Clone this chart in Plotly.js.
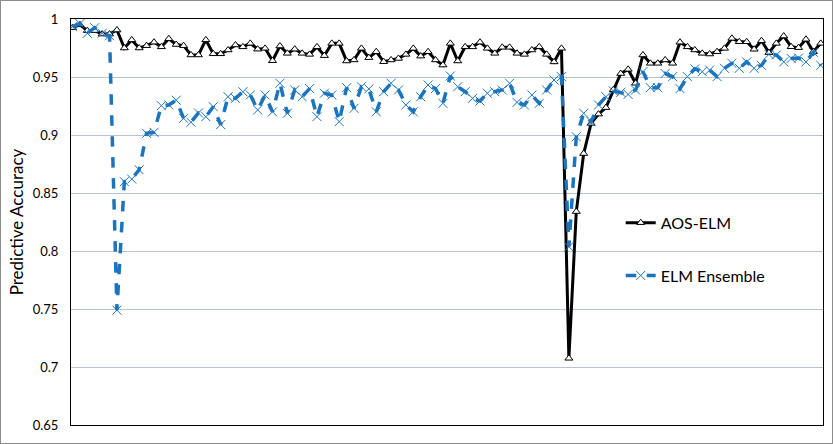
<!DOCTYPE html>
<html>
<head>
<meta charset="utf-8">
<script src="https://cdn.plot.ly/plotly-3.0.1.min.js"></script>
<style>
  html, body { margin: 0; padding: 0; background: #ffffff; }
  #chart { position: absolute; left: 0; top: 0; width: 831px; height: 442px; border: 1px solid #8c8c8c; }
</style>
</head>
<body>
<div id="chart"></div>
<script>
// Series names
const seriesNames = ["AOS-ELM", "ELM Ensemble"];

// AOS-ELM predictive accuracy
const aosElm = [
  0.9925, 0.995, 0.990, 0.990, 0.987, 0.987, 0.9905, 0.975, 0.982, 0.975,
  0.977, 0.980, 0.976, 0.983, 0.978, 0.977, 0.969, 0.969, 0.982, 0.970,
  0.970,
  0.9733, 0.9776, 0.976, 0.979, 0.974, 0.9747, 0.964, 0.9767, 0.9704, 0.974,
  0.9704, 0.9695, 0.976, 0.9684, 0.979, 0.979, 0.9638, 0.9647, 0.9747, 0.9667,
  0.9718,
  0.9632, 0.9647, 0.966, 0.9695, 0.9747, 0.968, 0.9718, 0.9647, 0.9603, 0.979,
  0.9638, 0.976, 0.976, 0.980, 0.9747, 0.9704, 0.9756, 0.9756, 0.9704, 0.9695,
  0.9733,
  0.976, 0.9695, 0.963, 0.9747, 0.7075, 0.834, 0.884, 0.910, 0.918, 0.9236,
  0.939, 0.953, 0.9566, 0.9446, 0.969, 0.9618, 0.9618, 0.9647, 0.9618, 0.980,
  0.976,
  0.9733, 0.9704, 0.9698, 0.9718, 0.9747, 0.9833, 0.9804, 0.9804, 0.9739, 0.9813,
  0.971, 0.979, 0.9853, 0.9761, 0.9753, 0.9825, 0.9718, 0.979
];

// ELM Ensemble predictive accuracy
const elmEnsemble = [
  0.9934, 0.996, 0.9877, 0.9925, 0.9877, 0.9856, 0.749, 0.8598, 0.862, 0.870,
  0.9014, 0.9023, 0.9253, 0.9259, 0.930, 0.9144, 0.911, 0.919, 0.9158, 0.9244,
  0.909,
  0.933, 0.9316, 0.9373, 0.9345, 0.9216, 0.9345, 0.920, 0.9446, 0.9187, 0.9388,
  0.933, 0.940, 0.9158, 0.936, 0.9345, 0.9115, 0.9408, 0.923, 0.9416, 0.9397,
  0.920,
  0.9373, 0.9446, 0.9388, 0.9259, 0.920, 0.933, 0.9431, 0.940, 0.9273, 0.9509,
  0.9416, 0.9373, 0.9316, 0.9293, 0.936, 0.9373, 0.9388, 0.9446, 0.9282, 0.9259,
  0.9345,
  0.9273, 0.9388, 0.9474, 0.9503, 0.8037, 0.8985, 0.9187, 0.9115, 0.9259, 0.933,
  0.938, 0.9368, 0.935, 0.9388, 0.9546, 0.9408, 0.9408, 0.953, 0.9503, 0.940,
  0.9503,
  0.957, 0.9546, 0.956, 0.9503, 0.9575, 0.9618, 0.9575, 0.963, 0.9575, 0.960,
  0.9695, 0.969, 0.963, 0.966, 0.9664, 0.963, 0.9713, 0.960
];

// Sample index (category) for each point
const sampleIndex = aosElm.map((_, i) => i);

// Y-axis ticks
const yTickVals = [0.65, 0.7, 0.75, 0.8, 0.85, 0.9, 0.95, 1];
const yTickText = ["0.65", "0.7", "0.75", "0.8", "0.85", "0.9", "0.95", "1"];
const yTitle = "Predictive Accuracy";

const FONT = "Lato, 'Open Sans', 'Liberation Sans', sans-serif";
const BLUE = "#1b74bd";

const traces = [
  {
    x: sampleIndex, y: aosElm, name: seriesNames[0], type: "scatter", mode: "lines+markers",
    legendgroup: "a",
    line: { color: "#000000", width: 3 },
    marker: { symbol: "triangle-up", size: 7, color: "#ffffff", line: { color: "#000000", width: 1 } }
  },
  {
    x: sampleIndex, y: elmEnsemble, name: seriesNames[1], type: "scatter", mode: "lines+markers",
    legendgroup: "b",
    line: { color: BLUE, width: 3.5, dash: "dash" },
    marker: { symbol: "x-thin", size: 9, color: BLUE, line: { color: BLUE, width: 1 } }
  }
];

const layout = {
  width: 831, height: 442,
  margin: { l: 70, r: 9, t: 18, b: 18, pad: 0 },
  paper_bgcolor: "#ffffff", plot_bgcolor: "#ffffff",
  font: { family: FONT, color: "#000000", size: 13 },
  showlegend: true,
  legend: {
    x: 0.731, y: 0.54, xanchor: "left", yanchor: "top",
    bgcolor: "rgba(0,0,0,0)", borderwidth: 0,
    font: { family: FONT, size: 16, color: "#000000" },
    tracegroupgap: 29
  },
  xaxis: {
    range: [-0.2, 101.3], showgrid: false, zeroline: false,
    showticklabels: false, ticks: "",
    showline: true, linecolor: "#000000", linewidth: 1, mirror: true
  },
  yaxis: {
    range: [0.65, 1], tickvals: yTickVals, ticktext: yTickText,
    showgrid: true, gridcolor: "#b3c3d6", gridwidth: 1, zeroline: false,
    showline: true, linecolor: "#000000", linewidth: 1, mirror: true,
    ticks: "outside", ticklen: 9, tickcolor: "rgba(0,0,0,0)",
    tickfont: { family: FONT, size: 13, color: "#000000" },
    title: { text: yTitle, font: { family: FONT, size: 17, color: "#000000" }, standoff: 4 }
  }
};

Plotly.newPlot("chart", traces, layout, { displayModeBar: false, staticPlot: true });
</script>
</body>
</html>
